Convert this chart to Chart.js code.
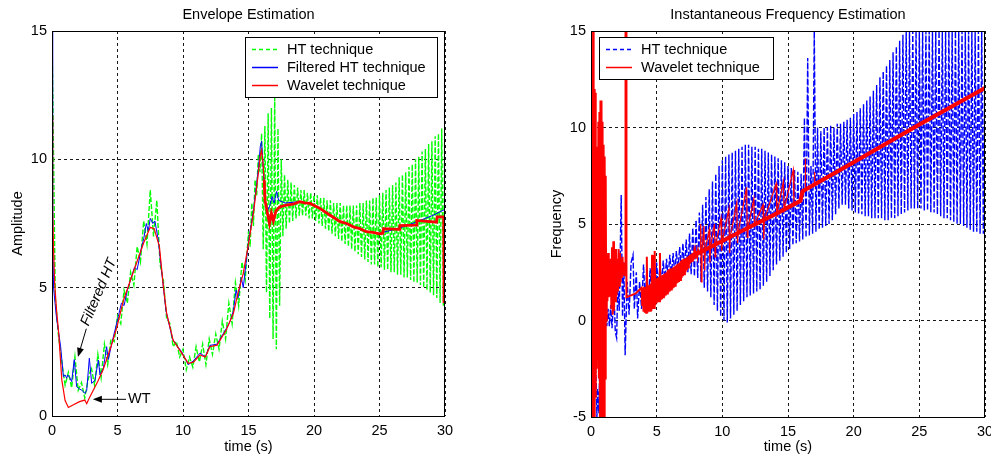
<!DOCTYPE html>
<html>
<head>
<meta charset="utf-8">
<script src="https://cdn.jsdelivr.net/npm/chart.js"></script>
<style>
  body { margin: 0; width: 991px; height: 460px; overflow: hidden; position: relative; background: #fff; }
  canvas { position: absolute; top: 0; }
  #envChart { left: 0; }
  #freqChart { left: 495px; }
</style>
</head>
<body>
<canvas id="envChart" width="495" height="460"></canvas>
<canvas id="freqChart" width="520" height="460"></canvas>
<script>
// ---- Envelope Estimation (left) ----
// wavelet envelope, thin part
const envWtT = [0, 0.03, 0.07, 0.12, 0.2, 0.35, 0.5, 0.75, 1.0, 1.25, 1.6, 2.1, 2.5, 2.65, 2.8, 3.15, 3.5, 3.9, 4.5, 4.95,
  5.45, 6.2, 7.0, 7.5, 7.8, 8.2, 8.5, 8.75, 9.25, 9.9, 10.4, 10.8, 11.3, 11.7, 12.05, 12.6, 13.3, 13.85, 14.2, 14.6,
  15.0, 15.4, 15.75, 15.9, 16.0, 16.1, 16.2];
const envWt = [11.7, 10.6, 8.0, 6.5, 5.2, 4.1, 3.3, 1.4, 0.6, 0.33, 0.43, 0.56, 0.62, 0.48, 0.65, 1.0, 1.35, 1.8, 2.7, 3.45,
  4.5, 5.6, 6.75, 7.35, 7.3, 6.6, 5.05, 4.0, 2.95, 2.45, 2.05, 2.1, 2.38, 2.3, 2.7, 2.76, 3.35, 4.0, 4.8, 5.56,
  6.7, 8.0, 9.45, 10.15, 10.35, 9.9, 9.2];
// wavelet envelope, thick stair part
const envWtTailT = [16.2, 16.26, 16.5, 16.6, 16.75, 16.9, 17.1, 17.4, 17.9, 18.4, 18.9, 19.3, 19.7, 20.45, 21.2, 22.0,
  22.5, 23.0, 23.5, 24.0, 24.5, 25.0, 25.25, 25.3, 26.5, 26.55, 27.8, 27.85, 29.35, 29.4, 29.9, 29.93];
const envWtTail = [9.2, 8.4, 7.76, 7.5, 7.9, 7.6, 8.0, 8.15, 8.22, 8.25, 8.35, 8.3, 8.28, 8.09, 7.83, 7.57,
  7.5, 7.37, 7.3, 7.18, 7.15, 7.1, 7.12, 7.3, 7.27, 7.42, 7.44, 7.62, 7.55, 7.76, 7.76, 4.4];
// filtered HT envelope
const envFhtT = [0, 0.03, 0.07, 0.12, 0.25, 0.35, 0.48, 0.66, 0.87, 1.0, 1.12, 1.2, 1.35, 1.5, 1.7, 1.88, 2.1, 2.27, 2.52, 2.65,
  2.85, 3.03, 3.28, 3.54, 3.66, 3.92, 4.17, 4.3, 4.55, 4.81, 5.06, 5.3, 5.5, 5.75, 6.0, 6.3, 6.5, 6.8, 7.0, 7.2,
  7.35, 7.5, 7.7, 7.85, 8.1, 8.4, 8.7, 9.2, 9.6, 9.9, 10.4, 10.8, 11.3, 11.7, 12.05, 12.6, 13.3, 13.6, 13.85, 14.05,
  14.2, 14.45, 14.6, 15.0, 15.4, 15.75, 15.9, 16.0, 16.1, 16.25, 16.45, 16.6, 16.8, 16.95, 17.15, 17.3, 17.8, 18.9, 19.7, 20.45,
  21.2, 22.0, 23.0, 24.0, 25.0, 26.0, 27.0, 28.0, 29.0, 30];
const envFht = [15, 11.5, 7.2, 5.0, 4.3, 3.8, 3.35, 2.7, 1.53, 1.6, 1.47, 1.6, 1.5, 1.34, 2.2, 1.14, 1.05, 1.01, 0.88, 1.0,
  2.25, 1.27, 1.4, 2.18, 1.6, 1.86, 2.7, 2.2, 2.8, 3.35, 3.87, 4.4, 4.3, 4.9, 5.3, 5.8, 5.7, 6.5, 6.9, 7.5,
  7.2, 7.7, 7.5, 7.6, 6.9, 5.5, 4.1, 3.0, 2.7, 2.5, 2.0, 2.15, 2.45, 2.3, 2.75, 2.8, 3.4, 3.7, 4.1, 4.9,
  4.6, 5.4, 5.0, 6.8, 8.1, 9.6, 10.5, 10.7, 9.9, 8.4, 8.0, 8.15, 8.55, 8.3, 8.75, 8.4, 8.3, 8.35, 8.28, 8.09,
  7.83, 7.57, 7.37, 7.18, 7.12, 7.25, 7.4, 7.6, 7.8, 8.05];
// raw HT envelope, every 0.25 s from 0 to 15
const envHtEarly = [15,
  4.6, 3.1, 2.1, 1.2,   1.7, 1.1, 2.3, 1.0,   1.3, 0.7, 1.4, 1.9,   1.2, 2.4, 1.5, 2.8,   2.0, 3.0, 2.9, 3.9,
  3.6, 4.9, 4.4, 5.6,   5.1, 6.6, 6.0, 7.6,   6.7, 8.8, 7.0, 8.4,   5.9, 5.3, 3.8, 3.6,   2.7, 2.9, 2.3, 2.6,
  1.8, 2.3, 1.9, 2.7,   2.1, 2.8, 2.0, 3.0,   2.4, 3.2, 2.6, 3.7,   3.0, 4.4, 3.6, 5.2,   4.3, 6.0, 5.3, 7.2];
// raw HT envelope, every 0.125 s from 15.125 to 30
const envHtLate = [
  6.6, 8.3, 7.4, 9.2, 8.6, 10.2, 9.5, 11.0,
  6.5, 11.3, 4.8, 11.8, 3.8, 12.0, 3.0, 12.4,
  2.6, 11.2, 4.3, 10.0, 7.0, 9.4, 7.3, 9.2,
  7.5, 9.1, 7.6, 9.0, 7.7, 8.9, 7.8, 8.8,
  7.8, 8.8, 7.8, 8.7, 7.7, 8.7, 7.7, 8.6,
  7.6, 8.6, 7.5, 8.5, 7.4, 8.5, 7.3, 8.4,
  7.2, 8.4, 7.1, 8.3, 7.0, 8.3, 6.9, 8.3,
  6.8, 8.2, 6.7, 8.2, 6.6, 8.2, 6.5, 8.2,
  6.4, 8.2, 6.3, 8.3, 6.2, 8.3, 6.1, 8.4,
  6.0, 8.4, 5.9, 8.5, 5.9, 8.5, 5.8, 8.6,
  5.8, 8.7, 5.7, 8.8, 5.7, 8.9, 5.6, 9.0,
  5.6, 9.1, 5.5, 9.3, 5.5, 9.4, 5.4, 9.5,
  5.4, 9.7, 5.3, 9.8, 5.2, 10.0, 5.2, 10.1,
  5.1, 10.3, 5.0, 10.4, 4.9, 10.6, 4.8, 10.7,
  4.7, 10.9, 4.6, 11.0, 4.4, 11.2, 4.3, 12.4];

// ---- Instantaneous Frequency Estimation (right) ----
// HT frequency, irregular start
const frqHtEarlyT = [0, 0.05, 0.15, 0.3, 0.4, 0.45, 0.5, 0.6, 0.7, 0.8, 0.9, 1.0, 1.1, 1.2, 1.3, 1.4, 1.5, 1.6, 1.75, 1.85,
  1.95, 2.05, 2.15, 2.3, 2.4, 2.5, 2.6, 2.75, 2.9, 3.05, 3.2, 3.3, 3.45, 3.55, 3.7, 3.85, 4.0];
const frqHtEarly = [15, 13.4, 6, -2, -3.2, -5, -3.5, -4.8, -1, -4, 0, -2, 1, -0.3, 0.6, -0.3, 0.8, -0.4, 1.5, -0.6,
  -0.9, 2.0, 0.5, 6.5, 0.2, 3.0, -1.8, 2.0, 0.3, 3.0, 3.4, 0.6, 2.5, 0.1, 2.0, 0.6, 2.9];
// HT frequency, every 0.125 s from 4.125 to 30
const frqHtLate = [
  1.0, 2.6, 0.8, 2.7, 1.2, 2.8, 1.3, 3.0,
  1.7, 2.9, 1.9, 3.1, 2.0, 3.2, 2.2, 3.4,
  2.3, 3.5, 2.4, 3.6, 2.6, 3.8, 2.7, 4.0,
  2.6, 4.2, 2.5, 4.5, 2.4, 4.8, 2.3, 5.2,
  2.2, 5.6, 2.0, 6.0, 1.7, 6.4, 1.5, 6.8,
  1.2, 7.2, 0.8, 7.6, 0.5, 8.0, 0.2, 8.3,
  0.0, 8.5, -0.1, 8.6, 0.1, 8.7, 0.3, 8.8,
  0.5, 8.9, 0.8, 9.0, 1.0, 9.1, 1.2, 9.1,
  1.3, 9.0, 1.4, 9.0, 1.5, 8.9, 1.6, 8.9,
  1.8, 8.8, 2.0, 8.7, 2.3, 8.6, 2.6, 8.5,
  2.9, 8.4, 3.1, 8.3, 3.3, 8.2, 3.5, 8.0,
  3.7, 7.9, 3.9, 7.8, 4.0, 7.7, 4.1, 7.6,
  4.2, 10.5, 4.3, 13.6, 4.4, 8.0, 4.5, 15.0,
  4.6, 10.0, 4.7, 9.8, 4.8, 10.0, 4.9, 10.0,
  5.0, 10.1, 5.2, 10.0, 5.5, 10.2, 5.8, 10.2,
  6.0, 10.3, 6.0, 10.4, 5.8, 10.5, 5.7, 10.7,
  5.6, 10.8, 5.5, 11.0, 5.5, 11.2, 5.4, 11.4,
  5.4, 11.6, 5.3, 11.9, 5.3, 12.2, 5.3, 12.6,
  5.3, 12.9, 5.2, 13.2, 5.2, 13.5, 5.3, 13.9,
  5.3, 14.2, 5.4, 14.5, 5.5, 14.8, 5.6, 15,
  5.7, 15, 5.8, 15, 5.8, 15, 5.8, 15,
  5.8, 15, 5.7, 15, 5.7, 15, 5.6, 15,
  5.6, 15, 5.5, 15, 5.4, 15, 5.3, 15,
  5.3, 15, 5.2, 15, 5.1, 15, 5.0, 15,
  5.0, 15, 4.9, 15, 4.8, 15, 4.7, 15,
  4.6, 15, 4.6, 15, 4.5, 15, 4.5, 15];
// wavelet frequency: burst every 0.04 s from 0 to 1.2
const frqWtBurst = [8.4, -5, 8.0, -5, 15, -5, 12, -5, 11.8, -4, 9, -2.5, 8.4, -2.0, 10.3, -3,
  10.8, -5, 11.4, -5, 11.4, -5, 10.3, -5, 9.1, -5, 8.5, -3, 7.5, 0, 3];
// every 0.05 s from 1.25 to 2.6
const frqWtBand1 = [1.0, 3.5, 1.2, 3.0, 1.3, 3.2, 0.6, 3.8, 0.3, 4.1, 0.5, 3.5, 1.0, 3.7,
  1.3, 3.2, 1.5, 3.7, 1.8, 3.5, 2.0, 3.2, 2.2, 3.3, 2.4, 3.0, 2.3, 2.8];
const frqWtSpikeT = [2.6, 2.64, 2.65, 2.67, 2.7, 3.4, 3.85, 3.9];
const frqWtSpike = [2.8, 2.3, 15, 15, 1.2, 1.4, 1.7, 0.8];
// every 0.05 s from 3.9 to 8.25
const frqWtBand2 = [
  0.8, 1.7, 0.45, 1.75, 0.4, 1.75, 0.4, 3.3, 0.4, 1.8, 0.45, 1.85, 0.5, 1.9, 0.5, 3.4,
  0.6, 2.0, 0.65, 3.6, 0.8, 2.15, 0.9, 2.2, 0.95, 2.25, 1.0, 3.5, 1.05, 2.3, 1.1, 2.35,
  1.2, 2.4, 1.25, 2.45, 1.3, 2.5, 1.4, 2.6, 1.45, 2.65, 1.5, 2.7, 1.6, 2.7, 1.65, 2.75,
  1.7, 2.8, 1.8, 2.85, 1.9, 2.9, 1.95, 2.95, 2.0, 3.0, 2.1, 3.1, 2.2, 3.15, 2.3, 3.2,
  2.4, 3.2, 2.5, 3.25, 2.6, 3.3, 2.75, 3.35, 2.9, 3.4, 3.0, 3.45, 3.1, 3.5, 3.15, 3.5,
  3.2, 3.55, 3.3, 3.6, 3.35, 3.6, 3.4, 3.6];
// thin spikes off the wavelet ridge and final drop
const frqWtHairT = [8.3, 8.35, 8.4, 8.45, 8.6, 8.65, 8.7, 9.0, 9.05, 9.1, 9.4, 9.45, 9.5, 9.9, 9.95, 10.0, 10.5, 10.55, 10.6, 11.1,
  11.15, 11.2, 11.85, 11.9, 11.95, 12.4, 12.45, 13.1, 13.15, 13.2, 14.1, 14.15, 14.65, 14.7, 15.4, 15.45, 15.95, 16.3, 16.32, 16.34,
  17.0, 17.02, 17.04, 30, 30];
const frqWtHair = [3.53, 5.0, 2.0, 3.6, 4.9, 2.6, 3.67, 4.7, 3.0, 3.81, 5.0, 3.3, 3.95, 5.3, 3.6, 4.12, 5.8, 3.5, 4.33, 6.1,
  4.0, 4.54, 6.9, 4.3, 4.8, 6.3, 4.95, 6.0, 4.2, 5.23, 7.1, 5.54, 7.2, 5.75, 7.8, 6.0, 6.2, 6.8, 8.4, 6.8,
  7.0, 7.7, 7.0, 12.05, -5];
// thick wavelet ridge
const frqWtLineT = [8.2, 10, 12, 14, 15.95, 16.1, 20, 25, 30];
const frqWtLine = [3.5, 4.12, 4.82, 5.5, 6.2, 6.7, 8.2, 10.15, 12.05];

const xTicks = [0, 5, 10, 15, 20, 25, 30];

// helpers
const pairs = (ts, vals) => ts.map((t, i) => ({ x: t, y: vals[i] }));
const grid = (t0, dt, vals) => vals.map((v, i) => ({ x: t0 + i * dt, y: v }));

Chart.defaults.font.family = '"Liberation Sans", Arial, sans-serif';
Chart.defaults.font.size = 14.5;
Chart.defaults.color = '#000';

const FONT = '14.5px "Liberation Sans", Arial, sans-serif';

// draws the matlab style box, title, legend and annotations
const matlabAxes = {
  id: 'matlabAxes',
  afterDatasetsDraw(chart, args, o) {
    const { ctx, chartArea: a, scales: { x, y } } = chart;
    ctx.save();
    ctx.fillStyle = '#000';
    ctx.strokeStyle = '#000';
    ctx.lineWidth = 1;

    (o.arrows || []).forEach(([t0, v0, t1, v1]) => {
      const x0 = x.getPixelForValue(t0), y0 = y.getPixelForValue(v0);
      const x1 = x.getPixelForValue(t1), y1 = y.getPixelForValue(v1);
      const ang = Math.atan2(y1 - y0, x1 - x0);
      const c = Math.cos(ang), s = Math.sin(ang);
      ctx.beginPath();
      ctx.moveTo(x0, y0);
      ctx.lineTo(x1 - 6 * c, y1 - 6 * s);
      ctx.stroke();
      ctx.beginPath();
      ctx.moveTo(x1, y1);
      ctx.lineTo(x1 - 9 * c + 3.5 * s, y1 - 9 * s - 3.5 * c);
      ctx.lineTo(x1 - 9 * c - 3.5 * s, y1 - 9 * s + 3.5 * c);
      ctx.closePath();
      ctx.fill();
    });

    (o.notes || []).forEach(n => {
      ctx.save();
      ctx.translate(x.getPixelForValue(n.t), y.getPixelForValue(n.v));
      ctx.rotate((n.angle || 0) * Math.PI / 180);
      ctx.font = (n.italic ? 'italic ' : '') + FONT;
      ctx.textAlign = n.align || 'left';
      ctx.textBaseline = 'middle';
      ctx.fillText(n.text, 0, 0);
      ctx.restore();
    });

    // axes box
    ctx.strokeRect(Math.round(a.left) + 0.5, Math.round(a.top) + 0.5,
      Math.round(a.width) - 1, Math.round(a.height));

    // title
    ctx.font = FONT;
    ctx.textAlign = 'center';
    ctx.textBaseline = 'middle';
    ctx.fillText(o.title, (a.left + a.right) / 2, a.top - 16);

    // legend
    const lg = o.legend;
    const bx = lg.left !== undefined ? a.left + lg.left : a.right - lg.right - lg.width;
    const by = a.top + lg.top;
    ctx.fillStyle = '#fff';
    ctx.fillRect(bx, by, lg.width, lg.height);
    ctx.strokeRect(Math.round(bx) + 0.5, Math.round(by) + 0.5, lg.width, lg.height);
    lg.items.forEach((it, i) => {
      const ry = Math.round(by + 11.5 + i * 18) + 0.5;
      ctx.strokeStyle = it.color;
      ctx.lineWidth = it.width;
      ctx.setLineDash(it.dash || []);
      ctx.beginPath();
      ctx.moveTo(bx + 7, ry);
      ctx.lineTo(bx + 33, ry);
      ctx.stroke();
      ctx.setLineDash([]);
      ctx.fillStyle = '#000';
      ctx.textAlign = 'left';
      ctx.fillText(it.text, bx + 42, ry);
    });
    ctx.restore();
  }
};

const axisOpts = (min, max, title, yWidth, xHeight, yTitlePad) => ({
  x: {
    type: 'linear', min: 0, max: 30,
    afterBuildTicks: s => { s.ticks = xTicks.map(v => ({ value: v })); },
    ticks: { padding: 6, maxRotation: 0 },
    grid: { color: 'rgba(0,0,0,0.9)', drawTicks: false },
    border: { display: false, dash: [3, 3] },
    title: { display: true, text: 'time (s)', padding: { top: 0, bottom: 4 } },
    afterFit: s => { s.height = xHeight; }
  },
  y: {
    min: min, max: max,
    ticks: { stepSize: 5, padding: 5 },
    grid: { color: 'rgba(0,0,0,0.9)', drawTicks: false },
    border: { display: false, dash: [3, 3] },
    title: { display: true, text: title, padding: { top: yTitlePad, bottom: 0 } },
    afterFit: s => { s.width = yWidth; }
  }
});

const line = (data, color, width, dash) => ({
  data: data, borderColor: color, borderWidth: width, borderDash: dash || [],
  pointRadius: 0, fill: false, tension: 0
});

const baseOpts = {
  responsive: false, animation: false, devicePixelRatio: 1, events: [],
  plugins: { legend: { display: false }, tooltip: { enabled: false } }
};

// left chart
new Chart(document.getElementById('envChart'), {
  type: 'line',
  data: {
    datasets: [
      line(pairs(envWtT, envWt), '#ff0000', 1.2),
      line(pairs(envWtTailT, envWtTail), '#ff0000', 2.8),
      line(pairs(envFhtT, envFht), '#0000ff', 1),
      line(grid(0, 0.25, envHtEarly).concat(grid(15.125, 0.125, envHtLate)), '#00ff00', 1.4, [5, 2])
    ]
  },
  options: Object.assign({}, baseOpts, {
    layout: { padding: { left: 0, right: 50, top: 31, bottom: 0 } },
    scales: axisOpts(0, 15, 'Amplitude', 52, 44, 9),
    plugins: Object.assign({}, baseOpts.plugins, {
      matlabAxes: {
        title: 'Envelope Estimation',
        arrows: [[2.62, 3.4, 1.98, 2.3], [5.65, 0.65, 3.12, 0.65]],
        notes: [
          { t: 3.57, v: 4.82, text: 'Filtered HT', angle: -67, italic: true, align: 'center' },
          { t: 5.8, v: 0.65, text: 'WT' }
        ],
        legend: {
          right: 8, top: 6, width: 192, height: 60,
          items: [
            { text: 'HT technique', color: '#00ff00', width: 1.5, dash: [4, 3] },
            { text: 'Filtered HT technique', color: '#0000ff', width: 1.5 },
            { text: 'Wavelet technique', color: '#ff0000', width: 1.5 }
          ]
        }
      }
    })
  }),
  plugins: [matlabAxes]
});

// right chart
const wtDense = grid(0, 0.04, frqWtBurst)
  .concat(grid(1.25, 0.05, frqWtBand1))
  .concat(pairs(frqWtSpikeT, frqWtSpike))
  .concat(grid(3.9, 0.05, frqWtBand2));

new Chart(document.getElementById('freqChart'), {
  type: 'line',
  data: {
    datasets: [
      line(pairs(frqWtLineT, frqWtLine), '#ff0000', 4),
      line(pairs(frqWtHairT, frqWtHair), '#ff0000', 1.2),
      line(wtDense, '#ff0000', 2),
      line(pairs(frqHtEarlyT, frqHtEarly).concat(grid(4.125, 0.125, frqHtLate)), '#0000ff', 1.4, [6, 2])
    ]
  },
  options: Object.assign({}, baseOpts, {
    layout: { padding: { left: 0, right: 30, top: 31, bottom: 0 } },
    scales: axisOpts(-5, 15, 'Frequency', 96, 43, 53),
    plugins: Object.assign({}, baseOpts.plugins, {
      matlabAxes: {
        title: 'Instantaneous Frequency Estimation',
        legend: {
          left: 8, top: 6, width: 174, height: 42,
          items: [
            { text: 'HT technique', color: '#0000ff', width: 1.5, dash: [4, 3] },
            { text: 'Wavelet technique', color: '#ff0000', width: 1.5 }
          ]
        }
      }
    })
  }),
  plugins: [matlabAxes]
});
</script>
</body>
</html>
